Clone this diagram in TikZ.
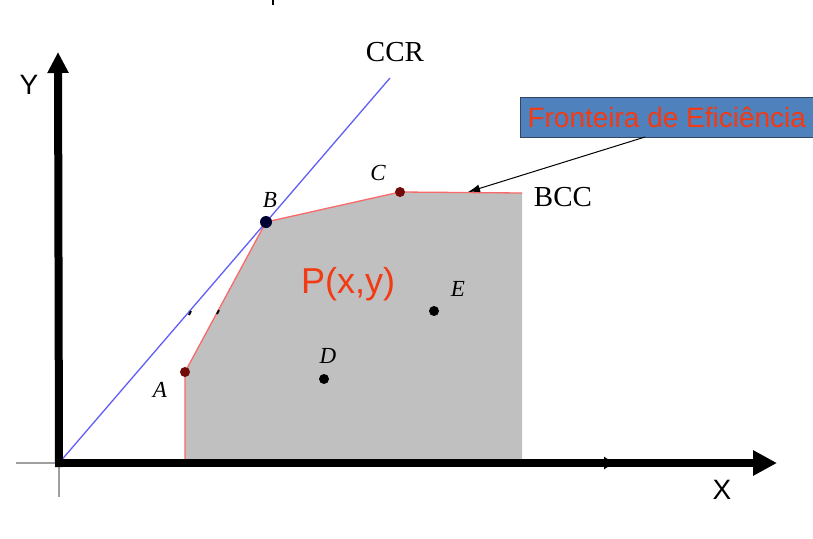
\documentclass[tikz,border=0pt]{standalone}
\usepackage{fontspec}
\setmainfont{Liberation Serif}
\newfontfamily\arialfont{Liberation Sans}
\usetikzlibrary{arrows.meta}

\definecolor{ccrblue}{RGB}{95,95,245}
\definecolor{frontred}{RGB}{250,105,105}
\definecolor{regiongray}{RGB}{192,192,192}
\definecolor{boxblue}{RGB}{79,129,189}
\definecolor{boxborder}{RGB}{50,70,100}
\definecolor{labelred}{RGB}{242,58,20}
\definecolor{dotred}{RGB}{115,10,10}

\tikzset{
  axis/.style={line width=8pt, line cap=rect},
  ptlabel/.style={font=\fontsize{23}{25}\selectfont\itshape},
  curvelabel/.style={font=\fontsize{29}{31}\selectfont},
  axislabel/.style={font=\arialfont\fontsize{28}{30}\selectfont},
}

\begin{document}
\begin{tikzpicture}[x=1pt,y=-1pt]
        \useasboundingbox (0,0) rectangle (813,538);
        \coordinate (O) at (59,463);
        \coordinate (Xtip) at (777,463);
        \coordinate (Ytip) at (58,52);
        \coordinate (A) at (185,372);
        \coordinate (B) at (266,222);
        \coordinate (C) at (400,192);
        \coordinate (D) at (324,379);
        \coordinate (E) at (434,311);
        \coordinate (LB) at (185,461);
        \coordinate (RT) at (522,193);
        \coordinate (RB) at (522,461);
        \coordinate (ccrend) at (390,78);

        % region P(x,y)
        \fill[regiongray] (LB) -- (A) -- (B) -- (C) -- (RT) -- (RB) -- cycle;
        \draw[frontred, line width=1.3pt] (LB) -- (A) -- (B) -- (C) -- (RT);

        % CCR frontier
        \draw[ccrblue, line width=1.3pt] (O) -- (ccrend);

        % axes
        \draw[gray!75, line width=2pt] (16,463) -- (O);
        \draw[gray!75, line width=2pt] (O) -- (59,497);
        \draw[line width=1pt, -{Latex[length=12pt,width=13pt]}] (O) -- (616,463);
        \draw[axis, -{Triangle[length=24pt,width=24pt]}] (O) -- (Xtip);
        \draw[axis, -{Triangle[length=21pt,width=20pt]}] (O) -- (Ytip);
        \draw[line width=2pt] (273,0) -- (273,5);

        \draw[line width=2pt] (189,315) -- (191,311);
        \draw[line width=2pt] (217,314) -- (219,310);

        % DMUs
        \fill[dotred] (A) circle (5);
        \fill[black!80!blue] (B) circle (6);
        \fill[dotred] (C) circle (5);
        \fill (D) circle (5);
        \fill (E) circle (5);

        \node[ptlabel] (labA) at (160,390) {A};
        \node[ptlabel] (labB) at (270,200) {B};
        \node[ptlabel] (labC) at (378,173) {C};
        \node[ptlabel] (labD) at (328,356) {D};
        \node[ptlabel] (labE) at (458,289) {E};

        \node[curvelabel] (ccr) at (395,52) {CCR};
        \node[curvelabel] (bcc) at (563,197) {BCC};
        \node[axislabel] (ylab) at (29,85) {Y};
        \node[axislabel] (xlab) at (722,490) {X};
        \node[font=\arialfont\fontsize{36}{38}\selectfont, text=labelred, anchor=base west, inner sep=0pt] (pxy) at (301,293) {P(x,y)};

        % label box and arrow
        \node[draw=boxborder, line width=1pt, fill=boxblue, text=labelred, anchor=west,
              minimum height=40pt, inner xsep=7pt, inner ysep=0pt,
              font=\arialfont\fontsize{28}{30}\selectfont] (front) at (520,117) {Fronteira de Eficiência};
        \coordinate (fstart) at (645,137);
        \coordinate (ftip) at (468,192);
        \draw[line width=1pt, -{Latex[length=12pt,width=8pt]}] (fstart) -- (ftip);
\end{tikzpicture}
\end{document}
